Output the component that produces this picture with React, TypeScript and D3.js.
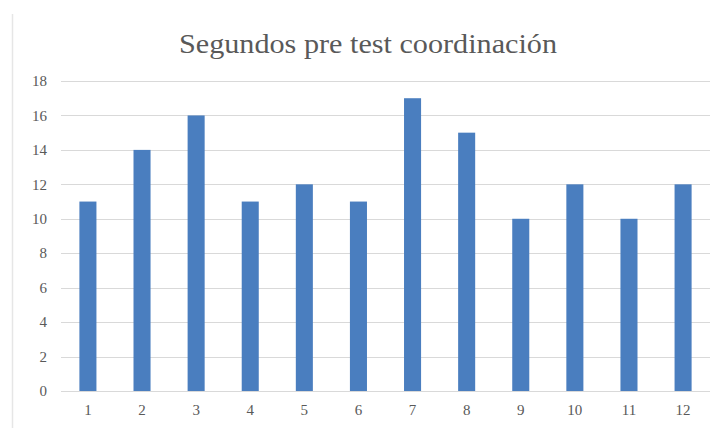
import React, { useEffect, useRef } from 'react';
import * as d3 from 'd3';

const categories = ['1', '2', '3', '4', '5', '6', '7', '8', '9', '10', '11', '12'];
const seconds = [11, 14, 16, 11, 12, 11, 17, 15, 10, 12, 10, 12];
const yTicks = [0, 2, 4, 6, 8, 10, 12, 14, 16, 18];

const App = () => {
  const svgRef = useRef<SVGSVGElement | null>(null);

  useEffect(() => {
    const W = 719;
    const H = 428;
    const margin = { top: 81, right: 9, bottom: 37, left: 61 };
    const width = W - margin.left - margin.right;
    const height = H - margin.top - margin.bottom;

    const root = d3.select(svgRef.current);
    root.selectAll('*').remove();

    // chart frame edge on the left
    root.append('line')
      .attr('x1', 12.5).attr('x2', 12.5)
      .attr('y1', 14).attr('y2', H)
      .attr('stroke', '#e6e6e6')
      .attr('stroke-width', 1.5);

    root.append('text')
      .attr('x', 368)
      .attr('y', 53)
      .attr('text-anchor', 'middle')
      .attr('textLength', 378)
      .attr('lengthAdjust', 'spacingAndGlyphs')
      .style('font-family', '"Liberation Serif", "DejaVu Serif", serif')
      .style('font-size', '27px')
      .attr('fill', '#595959')
      .text('Segundos pre test coordinación');

    const svg = root.append('g')
      .attr('transform', `translate(${margin.left},${margin.top})`);

    const x = d3.scaleBand()
      .domain(categories)
      .range([0, width])
      .paddingInner(0.685)
      .paddingOuter(0.34);

    const y = d3.scaleLinear()
      .domain([0, 18])
      .range([height, 0]);

    // gridlines
    svg.selectAll('.grid')
      .data(yTicks)
      .enter()
      .append('line')
      .attr('class', 'grid')
      .attr('x1', 0)
      .attr('x2', width)
      .attr('y1', d => Math.round(y(d)) + 0.5)
      .attr('y2', d => Math.round(y(d)) + 0.5)
      .attr('stroke', '#d9d9d9')
      .attr('stroke-width', 1);

    // y labels
    svg.selectAll('.ylab')
      .data(yTicks)
      .enter()
      .append('text')
      .attr('class', 'ylab')
      .attr('x', -14)
      .attr('y', d => y(d))
      .attr('dy', '0.35em')
      .attr('text-anchor', 'end')
      .style('font-family', '"Liberation Serif", "DejaVu Serif", serif')
      .style('font-size', '15px')
      .attr('fill', '#595959')
      .text(d => d);

    // bars
    svg.selectAll('.bar')
      .data(seconds)
      .enter()
      .append('rect')
      .attr('class', 'bar')
      .attr('x', (d, i) => x(categories[i]) as number)
      .attr('y', d => y(d))
      .attr('width', x.bandwidth())
      .attr('height', d => height - y(d))
      .attr('fill', '#4a7ebf');

    // x labels
    svg.selectAll('.xlab')
      .data(categories)
      .enter()
      .append('text')
      .attr('class', 'xlab')
      .attr('x', d => (x(d) as number) + x.bandwidth() / 2)
      .attr('y', height + 24)
      .attr('text-anchor', 'middle')
      .style('font-family', '"Liberation Serif", "DejaVu Serif", serif')
      .style('font-size', '15px')
      .attr('fill', '#595959')
      .text(d => d);
  }, []);

  return (
    <svg
      ref={svgRef}
      width={719}
      height={428}
      style={{ position: 'absolute', left: 0, top: 0, background: '#fff' }}
    />
  );
};

export default App;
